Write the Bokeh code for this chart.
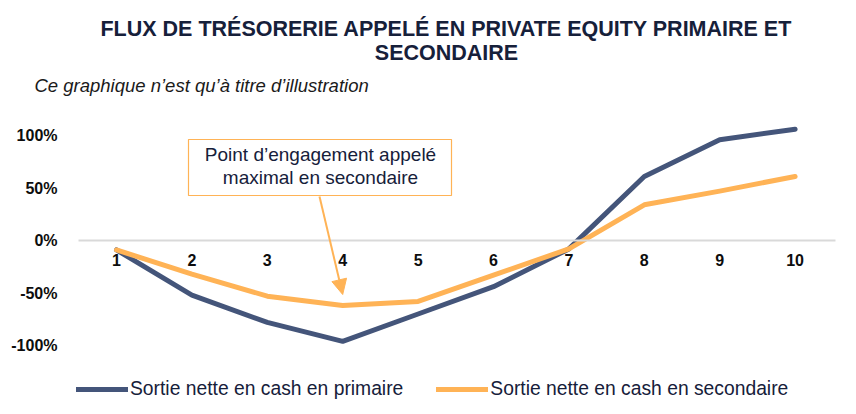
from bokeh.plotting import figure
from bokeh.models import (Range1d, FixedTicker, NumeralTickFormatter, Label, Legend, LegendItem,
                          BoxAnnotation, Arrow, NormalHead)
from bokeh.embed import file_html
from bokeh.resources import INLINE

# ---- data ----
years = [1, 2, 3, 4, 5, 6, 7, 8, 9, 10]
primaire = [-0.09, -0.52, -0.78, -0.96, -0.70, -0.44, -0.08, 0.61, 0.96, 1.06]
secondaire = [-0.09, -0.32, -0.53, -0.62, -0.58, -0.33, -0.08, 0.34, 0.47, 0.61]
y_ticks = [-1.0, -0.5, 0.0, 0.5, 1.0]
series_names = ["Sortie nette en cash en primaire", "Sortie nette en cash en secondaire"]
title_lines = ["FLUX DE TRÉSORERIE APPELÉ EN PRIVATE EQUITY PRIMAIRE ET", "SECONDAIRE"]
subtitle = "Ce graphique n\u2019est qu\u2019à titre d\u2019illustration"
callout_lines = ["Point d\u2019engagement appelé", "maximal en secondaire"]
peak_year = 4

NAVY = "#44557A"
ORANGE = "#FFB356"
TXT = "#16203A"
FONT = "Liberation Sans"

W, H = 856, 414
PLOT_L, PLOT_R = 78, 835          # visible plot area (pixels)
FIRST_PX, STEP_PX = 116.0, 75.4   # pixel of category 1 and spacing
ZERO_PX, PX_PER_UNIT = 240, 105.0
BASE_SHIFT = 8                    # label baseline correction

X0 = 1 - FIRST_PX / STEP_PX
X1 = X0 + W / STEP_PX
Y1 = ZERO_PX / PX_PER_UNIT
Y0 = -(H - ZERO_PX) / PX_PER_UNIT


def dx(px):
    return X0 + px / STEP_PX


def dy(py):
    return (ZERO_PX - py) / PX_PER_UNIT


p = figure(width=W, height=H, output_backend="svg", toolbar_location=None,
           x_range=Range1d(X0, X1), y_range=Range1d(Y0, Y1),
           min_border_left=0, min_border_right=0, min_border_top=0, min_border_bottom=0)
p.outline_line_color = None
p.xgrid.visible = False
p.ygrid.visible = False
p.background_fill_color = "white"
p.border_fill_color = "white"

# axes
xa = p.xaxis[0]
xa.fixed_location = 0
xa.bounds = (dx(PLOT_L), dx(PLOT_R))
xa.ticker = FixedTicker(ticks=years)
xa.axis_line_color = "#D9D9D9"
xa.axis_line_width = 2
xa.major_tick_line_color = None
xa.minor_tick_line_color = None
xa.major_label_text_font = FONT
xa.major_label_text_font_style = "bold"
xa.major_label_text_font_size = "16px"
xa.major_label_text_color = "#0D0D0D"
xa.major_label_standoff = 7

ya = p.yaxis[0]
ya.fixed_location = dx(PLOT_L)
ya.ticker = FixedTicker(ticks=y_ticks)
ya.formatter = NumeralTickFormatter(format="0%")
ya.axis_line_color = None
ya.major_tick_line_color = None
ya.minor_tick_line_color = None
ya.major_label_text_font = FONT
ya.major_label_text_font_style = "bold"
ya.major_label_text_font_size = "16px"
ya.major_label_text_color = "#0D0D0D"
ya.major_label_standoff = 15

# lines
r1 = p.line(years, primaire, line_color=NAVY, line_width=5, line_cap="round", line_join="round")
r2 = p.line(years, secondaire, line_color=ORANGE, line_width=5, line_cap="round", line_join="round")

# legend
legend = Legend(items=[LegendItem(label=series_names[0], renderers=[r1]),
                       LegendItem(label=series_names[1], renderers=[r2])],
                orientation="horizontal", location=(76, 14),
                label_text_font=FONT, label_text_font_size="19.3px", label_text_color=TXT,
                glyph_width=52, glyph_height=20, label_standoff=2, spacing=33,
                padding=0, margin=0, border_line_color=None, background_fill_alpha=0)
p.add_layout(legend)

# titles
for i, (line, base) in enumerate(zip(title_lines, [36, 60])):
    p.add_layout(Label(x=dx(446), y=dy(base - BASE_SHIFT), text=line, text_align="center",
                       text_baseline="alphabetic", text_font=FONT, text_font_style="bold",
                       text_font_size="21.5px", text_color=TXT))
p.add_layout(Label(x=dx(34), y=dy(93 - BASE_SHIFT), text=subtitle, text_align="left",
                   text_baseline="alphabetic", text_font=FONT, text_font_style="italic",
                   text_font_size="18.5px", text_color="#1A1A1A"))

# callout
p.add_layout(BoxAnnotation(left=dx(188), right=dx(451), top=dy(139), bottom=dy(195),
                           fill_color="white", fill_alpha=1.0, line_color=ORANGE,
                           line_alpha=1.0, line_width=1.2))
for line, base in zip(callout_lines, [161.5, 184.5]):
    p.add_layout(Label(x=dx(320), y=dy(base - BASE_SHIFT), text=line, text_align="center",
                       text_baseline="alphabetic", text_font=FONT, text_font_size="19px",
                       text_color=TXT))
p.add_layout(Arrow(end=NormalHead(size=15, fill_color=ORANGE, line_color=ORANGE),
                   x_start=dx(319), y_start=dy(196), x_end=peak_year, y_end=dy(294),
                   line_color=ORANGE, line_width=2))

open("out.html", "w").write(file_html(p, INLINE))
